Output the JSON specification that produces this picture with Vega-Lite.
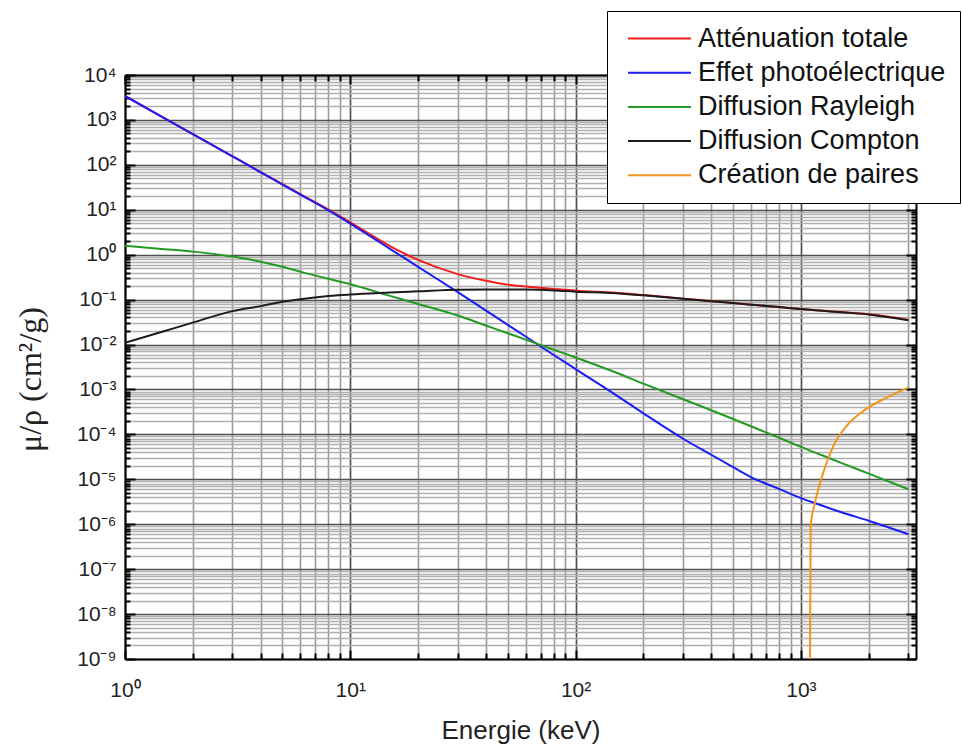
{
  "$schema": "https://vega.github.io/schema/vega-lite/v6.json",
  "width": 791,
  "height": 584,
  "autosize": {"type": "none"},
  "padding": {"left": 125, "top": 75, "right": 46, "bottom": 88},
  "background": "white",
  "config": {"view": {"stroke": null}, "font": "Liberation Sans"},
  "data": {
    "values": [
      {"E": 1, "mu": 3412, "s": "Atténuation totale"},
      {"E": 1.5, "mu": 1089, "s": "Atténuation totale"},
      {"E": 2, "mu": 484, "s": "Atténuation totale"},
      {"E": 3, "mu": 155, "s": "Atténuation totale"},
      {"E": 4, "mu": 69.2, "s": "Atténuation totale"},
      {"E": 5, "mu": 37.1, "s": "Atténuation totale"},
      {"E": 6, "mu": 22.3, "s": "Atténuation totale"},
      {"E": 8, "mu": 10.1, "s": "Atténuation totale"},
      {"E": 10, "mu": 5.24, "s": "Atténuation totale"},
      {"E": 15, "mu": 1.56, "s": "Atténuation totale"},
      {"E": 20, "mu": 0.766, "s": "Atténuation totale"},
      {"E": 30, "mu": 0.37, "s": "Atténuation totale"},
      {"E": 40, "mu": 0.262, "s": "Atténuation totale"},
      {"E": 50, "mu": 0.214, "s": "Atténuation totale"},
      {"E": 60, "mu": 0.196, "s": "Atténuation totale"},
      {"E": 80, "mu": 0.173, "s": "Atténuation totale"},
      {"E": 100, "mu": 0.158, "s": "Atténuation totale"},
      {"E": 150, "mu": 0.142, "s": "Atténuation totale"},
      {"E": 200, "mu": 0.1264, "s": "Atténuation totale"},
      {"E": 300, "mu": 0.1052, "s": "Atténuation totale"},
      {"E": 400, "mu": 0.0927, "s": "Atténuation totale"},
      {"E": 500, "mu": 0.0838, "s": "Atténuation totale"},
      {"E": 600, "mu": 0.0774, "s": "Atténuation totale"},
      {"E": 800, "mu": 0.0682, "s": "Atténuation totale"},
      {"E": 1000, "mu": 0.0619, "s": "Atténuation totale"},
      {"E": 1250, "mu": 0.0566, "s": "Atténuation totale"},
      {"E": 1500, "mu": 0.0527, "s": "Atténuation totale"},
      {"E": 2000, "mu": 0.0473, "s": "Atténuation totale"},
      {"E": 3000, "mu": 0.0358, "s": "Atténuation totale"},

      {"E": 1, "mu": 3410, "s": "Effet photoélectrique"},
      {"E": 1.5, "mu": 1087, "s": "Effet photoélectrique"},
      {"E": 2, "mu": 483, "s": "Effet photoélectrique"},
      {"E": 3, "mu": 154, "s": "Effet photoélectrique"},
      {"E": 4, "mu": 68.4, "s": "Effet photoélectrique"},
      {"E": 5, "mu": 36.5, "s": "Effet photoélectrique"},
      {"E": 6, "mu": 21.8, "s": "Effet photoélectrique"},
      {"E": 8, "mu": 9.68, "s": "Effet photoélectrique"},
      {"E": 10, "mu": 4.92, "s": "Effet photoélectrique"},
      {"E": 15, "mu": 1.35, "s": "Effet photoélectrique"},
      {"E": 20, "mu": 0.537, "s": "Effet photoélectrique"},
      {"E": 30, "mu": 0.1466, "s": "Effet photoélectrique"},
      {"E": 40, "mu": 0.0571, "s": "Effet photoélectrique"},
      {"E": 50, "mu": 0.0274, "s": "Effet photoélectrique"},
      {"E": 60, "mu": 0.0151, "s": "Effet photoélectrique"},
      {"E": 80, "mu": 0.00586, "s": "Effet photoélectrique"},
      {"E": 100, "mu": 0.00284, "s": "Effet photoélectrique"},
      {"E": 150, "mu": 0.000767, "s": "Effet photoélectrique"},
      {"E": 200, "mu": 0.000294, "s": "Effet photoélectrique"},
      {"E": 300, "mu": 0.00008, "s": "Effet photoélectrique"},
      {"E": 400, "mu": 0.0000352, "s": "Effet photoélectrique"},
      {"E": 500, "mu": 0.0000187, "s": "Effet photoélectrique"},
      {"E": 600, "mu": 0.0000112, "s": "Effet photoélectrique"},
      {"E": 800, "mu": 0.0000061, "s": "Effet photoélectrique"},
      {"E": 1000, "mu": 0.00000382, "s": "Effet photoélectrique"},
      {"E": 1250, "mu": 0.00000258, "s": "Effet photoélectrique"},
      {"E": 1500, "mu": 0.00000187, "s": "Effet photoélectrique"},
      {"E": 2000, "mu": 0.0000012, "s": "Effet photoélectrique"},
      {"E": 3000, "mu": 0.0000006, "s": "Effet photoélectrique"},

      {"E": 1, "mu": 1.58, "s": "Diffusion Rayleigh"},
      {"E": 1.5, "mu": 1.33, "s": "Diffusion Rayleigh"},
      {"E": 2, "mu": 1.17, "s": "Diffusion Rayleigh"},
      {"E": 3, "mu": 0.91, "s": "Diffusion Rayleigh"},
      {"E": 4, "mu": 0.7, "s": "Diffusion Rayleigh"},
      {"E": 5, "mu": 0.54, "s": "Diffusion Rayleigh"},
      {"E": 6, "mu": 0.42, "s": "Diffusion Rayleigh"},
      {"E": 8, "mu": 0.29, "s": "Diffusion Rayleigh"},
      {"E": 10, "mu": 0.22, "s": "Diffusion Rayleigh"},
      {"E": 15, "mu": 0.121, "s": "Diffusion Rayleigh"},
      {"E": 20, "mu": 0.0801, "s": "Diffusion Rayleigh"},
      {"E": 30, "mu": 0.0442, "s": "Diffusion Rayleigh"},
      {"E": 40, "mu": 0.0265, "s": "Diffusion Rayleigh"},
      {"E": 50, "mu": 0.0178, "s": "Diffusion Rayleigh"},
      {"E": 60, "mu": 0.0129, "s": "Diffusion Rayleigh"},
      {"E": 80, "mu": 0.00767, "s": "Diffusion Rayleigh"},
      {"E": 100, "mu": 0.00515, "s": "Diffusion Rayleigh"},
      {"E": 150, "mu": 0.00241, "s": "Diffusion Rayleigh"},
      {"E": 200, "mu": 0.00135, "s": "Diffusion Rayleigh"},
      {"E": 300, "mu": 0.000605, "s": "Diffusion Rayleigh"},
      {"E": 400, "mu": 0.000345, "s": "Diffusion Rayleigh"},
      {"E": 500, "mu": 0.00022, "s": "Diffusion Rayleigh"},
      {"E": 600, "mu": 0.000152, "s": "Diffusion Rayleigh"},
      {"E": 800, "mu": 0.0000841, "s": "Diffusion Rayleigh"},
      {"E": 1000, "mu": 0.0000527, "s": "Diffusion Rayleigh"},
      {"E": 1250, "mu": 0.0000338, "s": "Diffusion Rayleigh"},
      {"E": 1500, "mu": 0.0000235, "s": "Diffusion Rayleigh"},
      {"E": 2000, "mu": 0.0000134, "s": "Diffusion Rayleigh"},
      {"E": 3000, "mu": 0.000006, "s": "Diffusion Rayleigh"},

      {"E": 1, "mu": 0.0109, "s": "Diffusion Compton"},
      {"E": 1.5, "mu": 0.02, "s": "Diffusion Compton"},
      {"E": 2, "mu": 0.0308, "s": "Diffusion Compton"},
      {"E": 3, "mu": 0.0555, "s": "Diffusion Compton"},
      {"E": 4, "mu": 0.0716, "s": "Diffusion Compton"},
      {"E": 5, "mu": 0.0893, "s": "Diffusion Compton"},
      {"E": 6, "mu": 0.1018, "s": "Diffusion Compton"},
      {"E": 8, "mu": 0.1197, "s": "Diffusion Compton"},
      {"E": 10, "mu": 0.13, "s": "Diffusion Compton"},
      {"E": 15, "mu": 0.1435, "s": "Diffusion Compton"},
      {"E": 20, "mu": 0.153, "s": "Diffusion Compton"},
      {"E": 30, "mu": 0.1667, "s": "Diffusion Compton"},
      {"E": 40, "mu": 0.168, "s": "Diffusion Compton"},
      {"E": 50, "mu": 0.168, "s": "Diffusion Compton"},
      {"E": 60, "mu": 0.1675, "s": "Diffusion Compton"},
      {"E": 80, "mu": 0.16, "s": "Diffusion Compton"},
      {"E": 100, "mu": 0.15, "s": "Diffusion Compton"},
      {"E": 150, "mu": 0.139, "s": "Diffusion Compton"},
      {"E": 200, "mu": 0.1247, "s": "Diffusion Compton"},
      {"E": 300, "mu": 0.1045, "s": "Diffusion Compton"},
      {"E": 400, "mu": 0.092, "s": "Diffusion Compton"},
      {"E": 500, "mu": 0.0836, "s": "Diffusion Compton"},
      {"E": 600, "mu": 0.0772, "s": "Diffusion Compton"},
      {"E": 800, "mu": 0.0681, "s": "Diffusion Compton"},
      {"E": 1000, "mu": 0.0618, "s": "Diffusion Compton"},
      {"E": 1250, "mu": 0.0565, "s": "Diffusion Compton"},
      {"E": 1500, "mu": 0.0525, "s": "Diffusion Compton"},
      {"E": 2000, "mu": 0.0467, "s": "Diffusion Compton"},
      {"E": 3000, "mu": 0.0347, "s": "Diffusion Compton"},

      {"E": 1098, "mu": 0.000000001, "s": "Création de paires"},
      {"E": 1105, "mu": 0.00000091, "s": "Création de paires"},
      {"E": 1155, "mu": 0.000003, "s": "Création de paires"},
      {"E": 1257, "mu": 0.0000141, "s": "Création de paires"},
      {"E": 1393, "mu": 0.000055, "s": "Création de paires"},
      {"E": 1597, "mu": 0.000155, "s": "Création de paires"},
      {"E": 1892, "mu": 0.00033, "s": "Création de paires"},
      {"E": 2403, "mu": 0.00066, "s": "Création de paires"},
      {"E": 3000, "mu": 0.0011, "s": "Création de paires"}
    ]
  },
  "resolve": {"axis": {"x": "independent", "y": "independent"}},
  "layer": [
    {
      "transform": [{"filter": "datum.s != 'Création de paires'"}],
      "mark": {"type": "line", "strokeWidth": 2, "clip": true, "interpolate": "monotone"},
      "encoding": {
        "x": {
          "field": "E", "type": "quantitative",
          "scale": {"type": "log", "domain": [1, 3243], "nice": false},
          "axis": {
            "orient": "bottom",
            "values": [1,2,3,4,5,6,7,8,9,10,20,30,40,50,60,70,80,90,100,200,300,400,500,600,700,800,900,1000,2000,3000],
            "grid": true,
            "gridColor": {"condition": {"test": "abs(log(datum.value)/LN10 - round(log(datum.value)/LN10)) < 0.001", "value": "#505050"}, "value": "#999999"},
            "gridWidth": {"condition": {"test": "abs(log(datum.value)/LN10 - round(log(datum.value)/LN10)) < 0.001", "value": 1.7}, "value": 1.6},
            "domainColor": "#000000", "domainWidth": 2,
            "tickColor": "#000000", "tickWidth": 2,
            "tickSize": {"condition": {"test": "abs(log(datum.value)/LN10 - round(log(datum.value)/LN10)) < 0.001", "value": -9}, "value": -6},
            "labelExpr": "abs(log(datum.value)/LN10 - round(log(datum.value)/LN10)) < 0.001 ? '10' + (round(log(datum.value)/LN10) < 0 ? '⁻' : '') + substring('⁰¹²³⁴⁵⁶⁷⁸⁹', abs(round(log(datum.value)/LN10)), abs(round(log(datum.value)/LN10)) + 1) : ''",
            "labelFont": "Liberation Sans", "labelFontSize": 21, "labelColor": "#222222",
            "labelPadding": 29, "labelOverlap": false, "labelFlush": false,
            "title": "Energie (keV)", "titleFont": "Liberation Sans", "titleFontSize": 26, "titleFontWeight": "normal", "titleColor": "#222222",
            "titleY": 79, "titleBaseline": "alphabetic"
          }
        },
        "y": {
          "field": "mu", "type": "quantitative",
          "scale": {"type": "log", "domain": [0.000000001, 10000], "nice": false},
          "axis": {
            "orient": "left",
            "values": [1e-9,2e-9,3e-9,4e-9,5e-9,6e-9,7e-9,8e-9,9e-9,1e-8,2e-8,3e-8,4e-8,5e-8,6e-8,7e-8,8e-8,9e-8,1e-7,2e-7,3e-7,4e-7,5e-7,6e-7,7e-7,8e-7,9e-7,1e-6,2e-6,3e-6,4e-6,5e-6,6e-6,7e-6,8e-6,9e-6,1e-5,2e-5,3e-5,4e-5,5e-5,6e-5,7e-5,8e-5,9e-5,1e-4,2e-4,3e-4,4e-4,5e-4,6e-4,7e-4,8e-4,9e-4,0.001,0.002,0.003,0.004,0.005,0.006,0.007,0.008,0.009,0.01,0.02,0.03,0.04,0.05,0.06,0.07,0.08,0.09,0.1,0.2,0.3,0.4,0.5,0.6,0.7,0.8,0.9,1,2,3,4,5,6,7,8,9,10,20,30,40,50,60,70,80,90,100,200,300,400,500,600,700,800,900,1000,2000,3000,4000,5000,6000,7000,8000,9000,10000],
            "grid": true,
            "gridColor": {"condition": {"test": "abs(log(datum.value)/LN10 - round(log(datum.value)/LN10)) < 0.001", "value": "#505050"}, "value": "#b0b0b0"},
            "gridWidth": {"condition": {"test": "abs(log(datum.value)/LN10 - round(log(datum.value)/LN10)) < 0.001", "value": 1.7}, "value": 1.7},
            "domainColor": "#000000", "domainWidth": 2,
            "tickColor": "#000000", "tickWidth": 2,
            "tickSize": {"condition": {"test": "abs(log(datum.value)/LN10 - round(log(datum.value)/LN10)) < 0.001", "value": -10}, "value": -5},
            "labelExpr": "abs(log(datum.value)/LN10 - round(log(datum.value)/LN10)) < 0.001 ? '10' + (round(log(datum.value)/LN10) < 0 ? '⁻' : '') + substring('⁰¹²³⁴⁵⁶⁷⁸⁹', abs(round(log(datum.value)/LN10)), abs(round(log(datum.value)/LN10)) + 1) : ''",
            "labelFont": "Liberation Sans", "labelFontSize": 21, "labelColor": "#222222",
            "labelPadding": 19, "labelOverlap": false, "labelFlush": false,
            "title": "μ/ρ (cm²/g)", "titleFont": "Liberation Serif", "titleFontSize": 32, "titleFontWeight": "normal", "titleColor": "#222222",
            "titleX": -85, "titleY": 304, "titleBaseline": "alphabetic", "titleAlign": "center", "titleAngle": 270
          }
        },
        "color": {
          "field": "s", "type": "nominal",
          "scale": {
            "domain": ["Atténuation totale", "Effet photoélectrique", "Diffusion Rayleigh", "Diffusion Compton", "Création de paires"],
            "range": ["#f31c1c", "#1c1cf5", "#239a23", "#1c1c1c", "#f0961c"]
          },
          "legend": {
            "orient": "none", "legendX": 482, "legendY": -64,
            "title": null, "direction": "vertical",
            "symbolType": "M-0.62,0H5.38", "symbolSize": 441, "symbolStrokeWidth": 2,
            "labelFont": "Liberation Sans", "labelFontSize": 27, "labelColor": "#111111",
            "labelOffset": 50, "labelLimit": 400,
            "padding": 14, "rowPadding": 6.2,
            "strokeColor": "#000000", "fillColor": "#ffffff"
          }
        }
      }
    },
    {
      "transform": [{"filter": "datum.s == 'Création de paires'"}],
      "mark": {"type": "line", "strokeWidth": 2, "clip": true, "interpolate": "monotone"},
      "encoding": {
        "x": {
          "field": "E", "type": "quantitative",
          "scale": {"type": "log", "domain": [1, 3243], "nice": false},
          "axis": {
            "orient": "top",
            "values": [1,2,3,4,5,6,7,8,9,10,20,30,40,50,60,70,80,90,100,200,300,400,500,600,700,800,900,1000,2000,3000],
            "grid": false, "labels": false, "title": null,
            "domainColor": "#000000", "domainWidth": 2,
            "tickColor": "#000000", "tickWidth": 2,
            "tickSize": {"condition": {"test": "abs(log(datum.value)/LN10 - round(log(datum.value)/LN10)) < 0.001", "value": -9}, "value": -6}
          }
        },
        "y": {
          "field": "mu", "type": "quantitative",
          "scale": {"type": "log", "domain": [0.000000001, 10000], "nice": false},
          "axis": {
            "orient": "right",
            "values": [1e-9,2e-9,3e-9,4e-9,5e-9,6e-9,7e-9,8e-9,9e-9,1e-8,2e-8,3e-8,4e-8,5e-8,6e-8,7e-8,8e-8,9e-8,1e-7,2e-7,3e-7,4e-7,5e-7,6e-7,7e-7,8e-7,9e-7,1e-6,2e-6,3e-6,4e-6,5e-6,6e-6,7e-6,8e-6,9e-6,1e-5,2e-5,3e-5,4e-5,5e-5,6e-5,7e-5,8e-5,9e-5,1e-4,2e-4,3e-4,4e-4,5e-4,6e-4,7e-4,8e-4,9e-4,0.001,0.002,0.003,0.004,0.005,0.006,0.007,0.008,0.009,0.01,0.02,0.03,0.04,0.05,0.06,0.07,0.08,0.09,0.1,0.2,0.3,0.4,0.5,0.6,0.7,0.8,0.9,1,2,3,4,5,6,7,8,9,10,20,30,40,50,60,70,80,90,100,200,300,400,500,600,700,800,900,1000,2000,3000,4000,5000,6000,7000,8000,9000,10000],
            "grid": false, "labels": false, "title": null,
            "domainColor": "#000000", "domainWidth": 2,
            "tickColor": "#000000", "tickWidth": 2,
            "tickSize": {"condition": {"test": "abs(log(datum.value)/LN10 - round(log(datum.value)/LN10)) < 0.001", "value": -10}, "value": -5}
          }
        },
        "color": {"field": "s", "type": "nominal"}
      }
    }
  ]
}
